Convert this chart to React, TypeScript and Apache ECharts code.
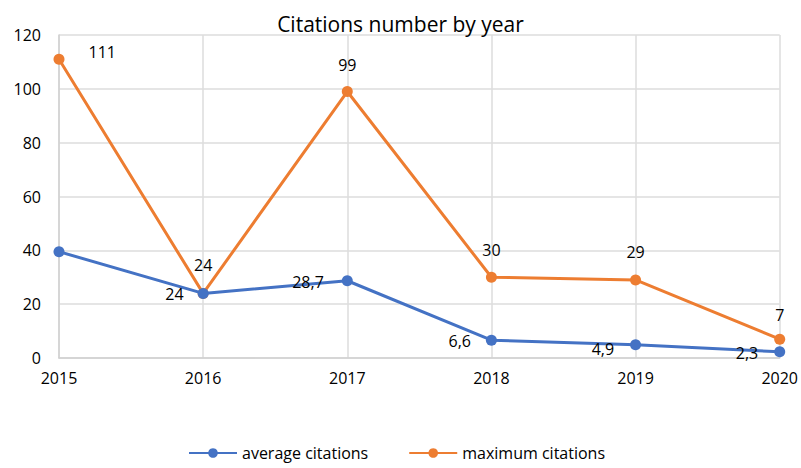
import React, { useEffect, useRef } from "react";
import * as echarts from "echarts";

const years = ["2015", "2016", "2017", "2018", "2019", "2020"];
const averageCitations = [39.5, 24, 28.7, 6.6, 4.9, 2.3];
const maximumCitations = [111, 24, 99, 30, 29, 7];
const averageLabelShown = [false, true, true, true, true, true];

const FONT = "'Open Sans', 'Noto Sans', sans-serif";
const BLUE = "#4472C4";
const ORANGE = "#ED7D31";

const fmt = (v: number) => String(v).replace(".", ",");

// per-point label spacing around the markers
const avgLabelGap = [15, 14, 18, 15, 16, 16];
const avgLabelDy = [0, 1, 1, 1, 4, 1];
const maxLabelGap = [24, 15, 13, 14, 14, 11];

export default function App() {
  const ref = useRef<HTMLDivElement>(null);

  useEffect(() => {
    if (!ref.current) return;
    document.body.style.margin = "0";
    document.body.style.overflow = "hidden";
    const chart = echarts.init(ref.current, undefined, { renderer: "svg" });

    const avgData = averageCitations.map((v, i) => ({
      value: v,
      label: {
        show: averageLabelShown[i],
        position: "left" as const,
        distance: avgLabelGap[i],
        offset: [0, avgLabelDy[i]],
        formatter: fmt(v),
      },
    }));

    const maxData = maximumCitations.map((v, i) => ({
      value: v,
      label: {
        show: true,
        position: i === 0 ? ("right" as const) : ("top" as const),
        distance: maxLabelGap[i],
        offset: i === 0 ? [0, -7] : [0, 0],
        formatter: fmt(v),
      },
    }));

    chart.setOption({
      animation: false,
      textStyle: { fontFamily: FONT },
      title: {
        text: "Citations number by year",
        left: "center",
        top: 8,
        textStyle: { fontFamily: FONT, fontSize: 21, fontWeight: "normal", color: "#000" },
      },
      grid: { left: 59, right: 20, top: 35, bottom: 110 },
      legend: {
        left: 183,
        top: 440,
        itemWidth: 48,
        itemHeight: 12,
        itemGap: 40,
        textStyle: { fontFamily: FONT, fontSize: 16, color: "#000" },
        data: ["average citations", "maximum citations"],
      },
      xAxis: {
        type: "category",
        data: years,
        boundaryGap: false,
        axisLine: { lineStyle: { color: "#d0d0d0", width: 1.5 } },
        axisTick: { show: false },
        splitLine: { show: true, lineStyle: { color: "#dcdcdc", width: 1.5 } },
        axisLabel: { color: "#000", fontSize: 16, margin: 12, fontFamily: FONT },
      },
      yAxis: {
        type: "value",
        min: 0,
        max: 120,
        interval: 20,
        axisLine: { show: true, lineStyle: { color: "#d0d0d0", width: 1.5 } },
        axisTick: { show: false },
        splitLine: { lineStyle: { color: "#dcdcdc", width: 1.5 } },
        axisLabel: { color: "#000", fontSize: 16, margin: 18, fontFamily: FONT },
      },
      series: [
        {
          name: "average citations",
          type: "line",
          data: avgData,
          symbol: "circle",
          symbolSize: 11,
          lineStyle: { color: BLUE, width: 3 },
          itemStyle: { color: BLUE },
          label: { color: "#000", fontSize: 16, fontFamily: FONT },
          z: 3,
        },
        {
          name: "maximum citations",
          type: "line",
          data: maxData,
          symbol: "circle",
          symbolSize: 11,
          lineStyle: { color: ORANGE, width: 3 },
          itemStyle: { color: ORANGE },
          label: { color: "#000", fontSize: 16, fontFamily: FONT },
          z: 2,
        },
      ],
    });

    return () => chart.dispose();
  }, []);

  return (
    <div
      ref={ref}
      style={{ position: "absolute", left: 0, top: 0, width: 801, height: 468 }}
    />
  );
}
